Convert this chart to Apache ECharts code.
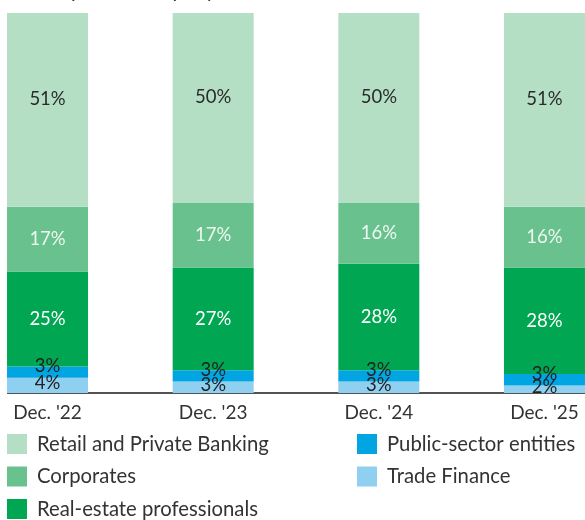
<!DOCTYPE html>
<html>
<head>
<meta charset="utf-8">
<script src="https://cdn.jsdelivr.net/npm/echarts@6/dist/echarts.min.js"></script>
<style>
  html, body { margin: 0; padding: 0; background: #ffffff; }
  #chart { width: 585px; height: 520px; }
</style>
</head>
<body>
<div id="chart"></div>
<script>
// Loan portfolio mix by client segment, share of total (%)
const categories = ["Dec. '22", "Dec. '23", "Dec. '24", "Dec. '25"];
const retailPrivate = [51, 50, 50, 51];
const corporates = [17, 17, 16, 16];
const realEstate = [25, 27, 28, 28];
const publicSector = [3, 3, 3, 3];
const tradeFinance = [4, 3, 3, 2];

const FONT = 'Lato, "Open Sans", sans-serif';
const INK = '#333333';

function seg(name, data, color, labelColor, offsetY) {
  return {
    name: name,
    type: 'bar',
    stack: 'total',
    data: data,
    barWidth: 81,
    itemStyle: { color: color },
    emphasis: { disabled: true },
    label: {
      show: true,
      position: 'inside',
      formatter: '{c}%',
      color: labelColor,
      fontFamily: FONT,
      fontWeight: 400,
      fontSize: 18.5,
      offset: [0, offsetY || 0]
    }
  };
}

const legendBase = {
  orient: 'vertical', top: 434, height: 90, padding: 0,
  itemWidth: 20, itemHeight: 20, itemGap: 12.5,
  icon: 'rect',
  textStyle: { color: INK, fontFamily: FONT, fontWeight: 400, fontSize: 20.3, padding: [0, 0, 0, 5] },
  selectedMode: false
};

const chart = echarts.init(document.getElementById('chart'), null, { renderer: 'canvas' });
chart.setOption({
  animation: false,
  backgroundColor: '#ffffff',
  grid: { left: -35.3, right: -42.3, top: 13, bottom: 127, outerBoundsMode: 'none' },
  xAxis: {
    type: 'category',
    data: categories,
    axisLine: { show: false },
    axisTick: { show: false },
    axisLabel: { color: INK, fontFamily: FONT, fontWeight: 400, fontSize: 19, margin: 10 }
  },
  yAxis: { type: 'value', min: 0, max: 100, show: false },
  legend: [
    Object.assign({}, legendBase, {
      left: 7,
      data: ['Retail and Private Banking', 'Corporates', 'Real-estate professionals']
    }),
    Object.assign({}, legendBase, {
      left: 357,
      data: ['Public-sector entities', 'Trade Finance']
    })
  ],
  graphic: [
    {
      type: 'text', left: 5, top: -20,
      style: { text: 'for the parent company', fill: INK, font: '20.5px ' + FONT }
    },
    {
      type: 'line',
      shape: { x1: 7, y1: 393, x2: 585, y2: 393 },
      style: { stroke: '#1a1a1a', lineWidth: 1.5 }
    }
  ],
  series: [
    seg('Trade Finance', tradeFinance, '#8fd0f0', '#222222', -2),
    seg('Public-sector entities', publicSector, '#00a5e1', '#222222', -6),
    seg('Real-estate professionals', realEstate, '#00a651', '#ffffff'),
    seg('Corporates', corporates, '#69c18e', '#eef8f1'),
    seg('Retail and Private Banking', retailPrivate, '#b4dfc4', '#2b2b2b', -11)
  ]
});
</script>
</body>
</html>
